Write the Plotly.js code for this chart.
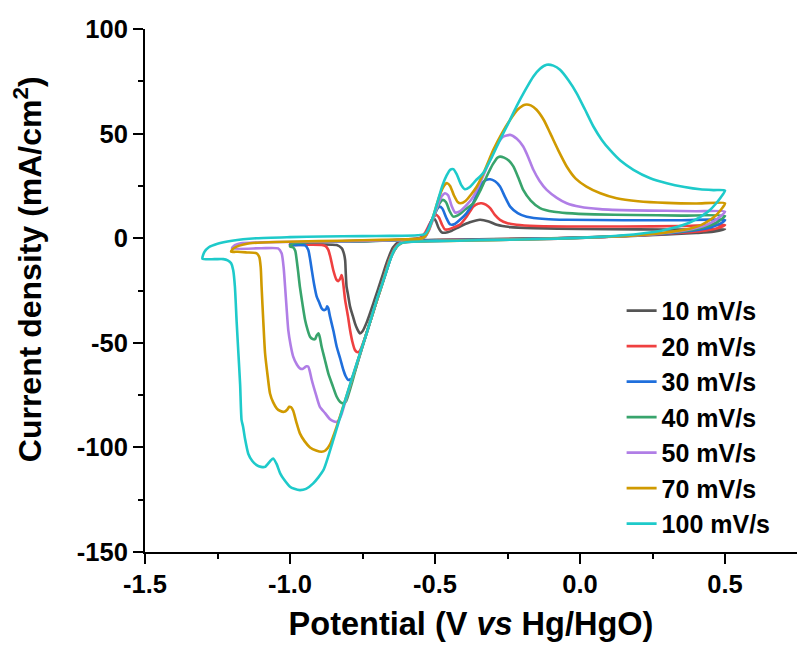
<!DOCTYPE html>
<html>
<head>
<meta charset="utf-8">
<script src="https://cdn.plot.ly/plotly-3.0.1.min.js"></script>
<style>html,body{margin:0;padding:0;background:#fff;}#chart{width:797px;height:650px;}</style>
</head>
<body>
<div id="chart"></div>
<script>
// Series labels (scan rates)
const seriesNames = ['10 mV/s', '20 mV/s', '30 mV/s', '40 mV/s', '50 mV/s', '70 mV/s', '100 mV/s'];

// 10 mV/s
const v10 = [-1.0,-0.99,-0.97,-0.88,-0.76,-0.66,-0.57,-0.535,
  -0.525,-0.515,-0.506,-0.497,-0.488,-0.477,-0.465,-0.445,-0.414,-0.38,-0.345,-0.315,-0.287,-0.24,-0.161,0.0,0.2,0.4,0.5,
  0.46,0.4,0.3,0.18,0.05,-0.1,-0.3,-0.5,-0.6,
  -0.625,-0.645,-0.665,-0.685,-0.71,-0.735,-0.75,-0.759,-0.768,-0.776,-0.785,-0.793,-0.8,-0.805,-0.808,-0.81,-0.816,-0.822,-0.839,-0.9,-1.0];
const j10 = [-3.0,-2.3,-2.0,-1.6,-1.3,-1.0,-0.3,0.6,
  3.5,7.5,9.6,8.2,5.0,2.8,2.6,3.4,5.6,7.6,8.8,8.0,6.4,5.3,4.8,4.4,4.2,4.1,4.3,
  3.1,2.5,1.8,1.1,0.5,0.0,-0.4,-0.8,-1.1,
  -1.8,-4.5,-11,-19.5,-30,-40,-44.5,-45.5,-43.5,-40.7,-36.5,-32.7,-27,-23.2,-16,-10.4,-6.5,-4.8,-3.3,-3.0,-3.0];

// 20 mV/s
const v20 = [-1.0,-0.99,-0.97,-0.88,-0.76,-0.65,-0.57,-0.55,
  -0.535,-0.52,-0.505,-0.497,-0.487,-0.476,-0.466,-0.452,-0.435,-0.414,-0.39,-0.368,-0.352,-0.339,-0.325,-0.31,-0.293,-0.276,-0.25,-0.219,-0.15,-0.046,0.15,0.35,0.5,
  0.47,0.43,0.38,0.3,0.2,0.08,-0.08,-0.3,-0.48,-0.59,
  -0.615,-0.635,-0.655,-0.68,-0.7,-0.725,-0.745,-0.758,-0.766,-0.776,-0.785,-0.793,-0.8,-0.81,-0.818,-0.822,-0.826,-0.833,-0.84,-0.851,-0.86,-0.868,-0.877,-0.89,-0.95,-1.0];
const j20 = [-3.2,-2.4,-2.0,-1.7,-1.4,-1.0,-0.4,0.3,
  2.5,6.5,10,11.2,10,6.5,4.2,4.3,5.2,6.5,10.5,15.1,16.5,16.7,16,14.4,11,8.8,7.2,6.4,5.8,5.6,5.6,5.8,6.3,
  4.6,3.6,2.9,2.1,1.3,0.6,0.0,-0.5,-0.9,-1.3,
  -1.8,-4,-9.5,-20.5,-29.5,-40.5,-49,-53.5,-54.5,-53.5,-49.5,-43.9,-37.5,-29.5,-20,-17.6,-19,-20.5,-19.8,-15.2,-9.5,-5.6,-3.8,-3.2,-3.1,-3.2];

// 30 mV/s
const v30 = [-1.0,-0.99,-0.97,-0.9,-0.78,-0.66,-0.57,-0.545,
  -0.53,-0.515,-0.5,-0.49,-0.485,-0.475,-0.462,-0.448,-0.432,-0.41,-0.391,-0.368,-0.345,-0.327,-0.31,-0.293,-0.276,-0.258,-0.241,-0.215,-0.184,-0.12,-0.046,0.15,0.35,0.5,
  0.48,0.455,0.42,0.37,0.3,0.2,0.08,-0.08,-0.3,-0.48,-0.59,
  -0.615,-0.632,-0.65,-0.675,-0.7,-0.735,-0.76,-0.775,-0.787,-0.799,-0.808,-0.816,-0.827,-0.839,-0.85,-0.862,-0.868,-0.872,-0.876,-0.885,-0.891,-0.9,-0.908,-0.917,-0.925,-0.932,-0.937,-0.948,-0.97,-1.0];
const j30 = [-3.4,-2.5,-2.0,-1.8,-1.5,-1.1,-0.6,0.2,
  2.5,7.5,12,14.5,15.1,14.2,10,6.6,6.8,9.3,12,17,24.7,27.6,28.2,27.2,24.7,19.5,15.1,12,10.3,9.2,8.8,8.6,8.6,8.7,
  6.7,5.4,4.3,3.3,2.3,1.4,0.6,-0.1,-0.6,-1.0,-1.4,
  -1.9,-4,-8.5,-19,-29.5,-45,-56.3,-63,-67,-67.8,-66,-63,-57.5,-51.9,-44.5,-37.5,-33.5,-32.5,-34,-34.3,-33.5,-30.5,-27.9,-22,-15.2,-9,-5.6,-3.4,-3.2,-3.4];

// 40 mV/s
const v40 = [-1.0,-0.995,-0.98,-0.93,-0.8,-0.68,-0.57,-0.54,
  -0.525,-0.51,-0.495,-0.483,-0.473,-0.462,-0.45,-0.437,-0.42,-0.395,-0.368,-0.345,-0.322,-0.3,-0.285,-0.276,-0.262,-0.245,-0.23,-0.213,-0.196,-0.17,-0.138,-0.09,-0.046,0.05,0.184,0.35,0.5,
  0.48,0.46,0.43,0.39,0.33,0.25,0.14,0.0,-0.15,-0.35,-0.5,-0.59,
  -0.615,-0.632,-0.65,-0.675,-0.7,-0.735,-0.765,-0.785,-0.799,-0.807,-0.816,-0.827,-0.839,-0.853,-0.868,-0.88,-0.891,-0.897,-0.902,-0.908,-0.914,-0.922,-0.931,-0.94,-0.948,-0.957,-0.966,-0.972,-0.977,-0.982,-0.99,-1.0];
const j40 = [-4.0,-3.0,-2.3,-1.9,-1.6,-1.2,-0.6,0.2,
  3,8,13.5,17,18.3,17.2,13,10.3,11,13.8,16.7,22.5,29.5,35.5,38.5,39.0,38.5,37,34.3,29,23.1,18,14.4,12.6,12.0,11.4,11.1,10.8,10.6,
  8.3,6.8,5.3,4.1,3.0,1.9,1.0,0.2,-0.3,-0.8,-1.2,-1.5,
  -2.0,-4,-8.5,-19,-29.5,-45,-58.5,-68.5,-75,-78,-78.9,-78.3,-75.8,-70.5,-64.6,-58,-51.9,-47.5,-45.5,-46.5,-48.3,-48.2,-47.1,-43.5,-39.1,-31.5,-23.2,-16,-10.4,-6.0,-4.3,-4.0];

// 50 mV/s
const v50 = [-1.2,-1.19,-1.17,-1.1,-0.95,-0.8,-0.65,-0.56,-0.535,
  -0.52,-0.505,-0.49,-0.477,-0.466,-0.455,-0.443,-0.431,-0.415,-0.39,-0.368,-0.345,-0.31,-0.287,-0.265,-0.241,-0.218,-0.196,-0.178,-0.161,-0.14,-0.115,-0.08,-0.046,0.0,0.069,0.18,0.299,0.4,0.5,
  0.48,0.46,0.43,0.39,0.34,0.27,0.17,0.05,-0.1,-0.3,-0.45,-0.58,
  -0.615,-0.635,-0.655,-0.68,-0.7,-0.74,-0.78,-0.805,-0.822,-0.832,-0.839,-0.85,-0.862,-0.88,-0.897,-0.91,-0.925,-0.932,-0.937,-0.943,-0.948,-0.957,-0.966,-0.976,-0.989,-0.998,-1.006,-1.012,-1.017,-1.022,-1.029,-1.041,-1.1,-1.2];
const j50 = [-4.8,-3.3,-2.4,-2.0,-1.7,-1.4,-1.0,-0.5,0.6,
  4,10,16,20,21.5,20.5,15.5,12.3,12.8,16,19.9,26.3,37.5,44.5,48.5,49.4,47.5,43.8,38.5,32.7,27.5,23.1,19.3,16.7,15.0,13.9,13.3,13.1,12.9,12.7,
  10.0,8.0,6.0,4.5,3.3,2.2,1.2,0.3,-0.3,-0.8,-1.2,-1.6,
  -2.2,-4.5,-10,-21,-29.5,-47,-64.5,-76,-84,-87,-87.8,-87.5,-86.5,-83.5,-80.6,-75,-67.8,-63.5,-61.4,-61.2,-61.6,-62.5,-62.2,-60.5,-56.6,-51,-43.9,-33,-23.2,-14,-7.2,-4.9,-4.8,-4.8];

// 70 mV/s
const v70 = [-1.203,-1.196,-1.184,-1.16,-1.138,-1.05,-0.9,-0.75,-0.62,-0.55,-0.535,
  -0.52,-0.505,-0.49,-0.475,-0.465,-0.458,-0.448,-0.435,-0.422,-0.412,-0.395,-0.375,-0.356,-0.33,-0.299,-0.27,-0.241,-0.215,-0.19,-0.17,-0.15,-0.125,-0.103,-0.075,-0.046,-0.015,0.022,0.07,0.126,0.2,0.299,0.4,0.5,
  0.485,0.465,0.44,0.42,0.39,0.35,0.3,0.22,0.12,0.0,-0.15,-0.3,-0.45,-0.58,
  -0.615,-0.635,-0.655,-0.68,-0.7,-0.74,-0.78,-0.81,-0.839,-0.862,-0.878,-0.891,-0.91,-0.931,-0.95,-0.966,-0.978,-0.989,-0.996,-1.003,-1.01,-1.02,-1.035,-1.046,-1.058,-1.069,-1.077,-1.086,-1.092,-1.098,-1.101,-1.106,-1.115,-1.15,-1.18,-1.203];
const j70 = [-6.4,-5.0,-4.0,-3.0,-2.4,-1.8,-1.4,-1.0,-0.6,-0.2,0.8,
  4.5,11,18,23.5,25.8,26.3,25,20.5,17.3,16.7,17.8,21,24.7,32,42.2,50,56.6,61.5,63.8,63.5,61.4,56.5,50.2,42,34.3,28.5,24.7,21.5,19.1,17.7,16.9,16.6,16.7,
  13.5,10.5,8,6.5,5.0,3.8,2.8,1.7,0.8,0.1,-0.5,-0.9,-1.3,-1.7,
  -2.3,-4.5,-10,-21,-29.5,-47,-64.5,-77.5,-90,-98.5,-101.5,-102.1,-101.5,-100,-97,-93.3,-88,-82.5,-80.8,-80.6,-82,-83,-82.5,-81.3,-78.5,-74.2,-66,-55,-40,-23.2,-14,-9.0,-7.2,-6.8,-6.5,-6.4];

// 100 mV/s
const v100 = [-1.302,-1.295,-1.28,-1.25,-1.2,-1.115,-1.0,-0.885,-0.75,-0.655,-0.56,-0.535,
  -0.52,-0.505,-0.49,-0.475,-0.46,-0.447,-0.437,-0.425,-0.41,-0.397,-0.38,-0.36,-0.334,-0.305,-0.276,-0.247,-0.219,-0.19,-0.161,-0.138,-0.115,-0.092,-0.069,-0.04,-0.012,0.017,0.046,0.075,0.103,0.14,0.184,0.24,0.299,0.36,0.414,0.46,0.5,
  0.485,0.465,0.448,0.424,0.4,0.37,0.33,0.28,0.22,0.15,0.05,-0.05,-0.2,-0.35,-0.5,-0.6,
  -0.62,-0.64,-0.655,-0.68,-0.701,-0.735,-0.77,-0.81,-0.85,-0.885,-0.92,-0.945,-0.966,-0.985,-1.0,-1.02,-1.034,-1.046,-1.058,-1.068,-1.086,-1.1,-1.115,-1.13,-1.144,-1.155,-1.162,-1.167,
  -1.172,-1.178,-1.184,-1.19,-1.196,-1.203,-1.215,-1.23,-1.26,-1.302];
const j100 = [-9.8,-6.5,-4.3,-2.6,-1.2,0.0,0.5,0.8,1.0,1.1,1.4,2.0,
  5,11,18,25,30,32.8,33,30.5,25.5,23.4,24.5,27.5,31.1,38.5,47,55,63,70.5,77.3,81,82.9,82.5,80.5,75.5,69.4,61.5,53.4,47,42.2,37,32.7,28.8,26.3,24.5,23.4,23,22.8,
  19.5,16,13.5,11.0,9.0,7.0,5.2,3.6,2.4,1.4,0.5,-0.1,-0.6,-1.0,-1.4,-1.9,
  -2.6,-5.5,-10.4,-21,-29.5,-45,-59.8,-77.5,-96,-110.9,-117.2,-119.8,-120.4,-119.8,-118.8,-115.5,-112.4,-108,-105.3,-106.5,-109.3,-109.3,-108.5,-106.5,-103,-96,-90,-87,
  -70,-55,-40,-23.2,-15.2,-12,-10.6,-10.0,-10.0,-9.8];

// Axis tick labels
const xTickVals = [-1.5, -1.0, -0.5, 0.0, 0.5];
const xTickText = ['-1.5', '-1.0', '-0.5', '0.0', '0.5'];
const yTickVals = [-150, -100, -50, 0, 50, 100];
const yTickText = ['-150', '-100', '-50', '0', '50', '100'];
const xTitle = 'Potential (V <i>vs</i> Hg/HgO)';
const yTitle = 'Current density (mA/cm<sup>2</sup>)';

const lineColors = ['#555555', '#ef4040', '#1f6fdc', '#38a46c', '#b07ee6', '#d09a00', '#1ecaca'];

const potentials = [v10, v20, v30, v40, v50, v70, v100];
const currents = [j10, j20, j30, j40, j50, j70, j100];

const fontFamily = '"Liberation Sans", Arial, Helvetica, sans-serif';

const traces = seriesNames.map((name, i) => ({
  x: potentials[i],
  y: currents[i],
  type: 'scatter',
  mode: 'lines',
  name: name,
  line: { color: lineColors[i], width: 2.6, shape: 'spline', smoothing: 0.6 },
  hoverinfo: 'x+y+name'
}));

const axisCommon = {
  ticks: 'outside', ticklen: 10, tickwidth: 2, tickcolor: '#000',
  showline: true, linewidth: 2, linecolor: '#000', mirror: false,
  showgrid: false, zeroline: false,
  tickfont: { family: fontFamily, size: 25.5, color: '#000', weight: 'bold' }
};

const layout = {
  width: 797, height: 650,
  margin: { l: 145, r: 0, t: 29, b: 98, pad: 0 },
  paper_bgcolor: '#ffffff', plot_bgcolor: '#ffffff',
  font: { family: fontFamily, color: '#000', weight: 'bold' },
  showlegend: true,
  legend: {
    x: 0.731, y: 0.505, xanchor: 'left', yanchor: 'top',
    font: { family: fontFamily, size: 25, color: '#000', weight: 'bold' },
    bgcolor: 'rgba(0,0,0,0)', borderwidth: 0, tracegroupgap: 0
  },
  xaxis: Object.assign({}, axisCommon, {
    range: [-1.5, 0.748],
    tickmode: 'array', tickvals: xTickVals, ticktext: xTickText,
    ticklabelstandoff: -2,
    minor: { tickmode: 'linear', tick0: -1.5, dtick: 0.25, ticks: 'outside', ticklen: 5, tickwidth: 2, tickcolor: '#000', showgrid: false },
    title: { text: xTitle, font: { family: fontFamily, size: 32.5, color: '#000', weight: 'bold' }, standoff: 16 }
  }),
  yaxis: Object.assign({}, axisCommon, {
    range: [-150, 100],
    tickmode: 'array', tickvals: yTickVals, ticktext: yTickText,
    ticklabelstandoff: 0,
    minor: { tickmode: 'linear', tick0: 0, dtick: 25, ticks: 'outside', ticklen: 5, tickwidth: 2, tickcolor: '#000', showgrid: false }
  }),
  annotations: [{
    text: yTitle, textangle: -90, showarrow: false,
    xref: 'paper', yref: 'paper', x: -0.18, y: 0.54,
    xanchor: 'center', yanchor: 'middle',
    font: { family: fontFamily, size: 32, color: '#000', weight: 'bold' }
  }]
};

Plotly.newPlot('chart', traces, layout, { displayModeBar: false, responsive: false });
</script>
</body>
</html>
